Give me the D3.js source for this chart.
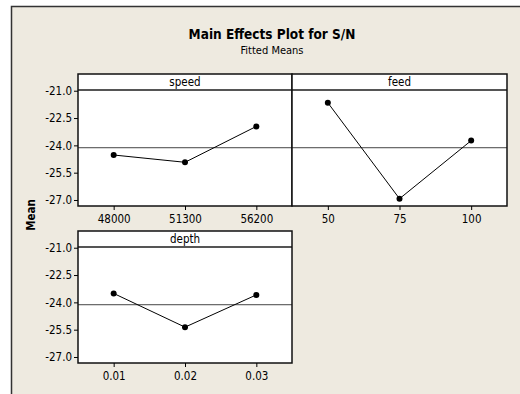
<!DOCTYPE html>
<html>
<head>
<meta charset="utf-8">
<script src="https://cdn.jsdelivr.net/npm/d3@7"></script>
<style>
  body { margin: 0; background: #fff; }
  text { font-family: "DejaVu Sans Condensed", "Liberation Sans", sans-serif; fill: #000; }
</style>
</head>
<body>
<svg id="chart"></svg>
<script>
// Main effects data (fitted means of S/N per factor level)
const factors = ["speed", "feed", "depth"];
const speedLevels = ["48000", "51300", "56200"];
const speedMeans = [-24.53, -24.93, -22.96];
const feedLevels = ["50", "75", "100"];
const feedMeans = [-21.66, -26.93, -23.74];
const depthLevels = ["0.01", "0.02", "0.03"];
const depthMeans = [-23.51, -25.36, -23.59];
const overallMean = -24.13;
const yTicks = [-21.0, -22.5, -24.0, -25.5, -27.0];

const width = 520, height = 394;
const svg = d3.select("#chart").attr("width", width).attr("height", height);

// beige frame
svg.append("rect").attr("x", 11).attr("y", 6).attr("width", width - 11).attr("height", height - 6)
  .attr("fill", "#eeeae0");
svg.append("path").attr("d", `M11.5,${height}V6.5H${width}`).attr("fill", "none").attr("stroke", "#333").attr("stroke-width", 1.5);

svg.append("text").attr("x", 272).attr("y", 39).attr("text-anchor", "middle")
  .style("font-weight", "bold").style("font-size", "13.5px").text("Main Effects Plot for S/N");
svg.append("text").attr("x", 272).attr("y", 54).attr("text-anchor", "middle")
  .style("font-size", "11px").text("Fitted Means");
svg.append("text").attr("transform", "translate(35,215) rotate(-90)").attr("text-anchor", "middle")
  .style("font-weight", "bold").style("font-size", "11.5px").text("Mean");

const panels = [
  { name: factors[0], levels: speedLevels, means: speedMeans, x0: 78, x1: 292, top: 74, yAxis: true },
  { name: factors[1], levels: feedLevels, means: feedMeans, x0: 292, x1: 507, top: 74, yAxis: false },
  { name: factors[2], levels: depthLevels, means: depthMeans, x0: 78, x1: 292, top: 231, yAxis: true }
];
const stripH = 16, plotH = 116;
const fmt = d => d3.format(".1f")(d).replace("\u2212", "-");

panels.forEach(p => {
  const g = svg.append("g");
  const y = d3.scaleLinear().domain([-27.33, -20.96]).range([p.top + stripH + plotH, p.top + stripH]);
  const x = d3.scaleLinear().domain([0.5, 3.5]).range([p.x0, p.x1]);

  g.append("rect").attr("x", p.x0).attr("y", p.top).attr("width", p.x1 - p.x0).attr("height", stripH + plotH)
    .attr("fill", "#fff");

  // reference line at overall mean
  g.append("line").attr("x1", p.x0).attr("x2", p.x1).attr("y1", y(overallMean)).attr("y2", y(overallMean))
    .attr("stroke", "#444").attr("stroke-width", 1);

  const pts = p.means.map((m, i) => [x(i + 1), y(m)]);
  g.append("path").attr("d", d3.line()(pts)).attr("fill", "none").attr("stroke", "#000").attr("stroke-width", 1);
  g.selectAll("circle").data(pts).join("circle")
    .attr("cx", d => d[0]).attr("cy", d => d[1]).attr("r", 3).attr("fill", "#000");

  // strip
  g.append("line").attr("x1", p.x0).attr("x2", p.x1).attr("y1", p.top + stripH).attr("y2", p.top + stripH)
    .attr("stroke", "#555").attr("stroke-width", 2);
  g.append("text").attr("x", (p.x0 + p.x1) / 2).attr("y", p.top + 12).attr("text-anchor", "middle")
    .style("font-size", "11.5px").text(p.name);

  g.append("rect").attr("x", p.x0).attr("y", p.top).attr("width", p.x1 - p.x0).attr("height", stripH + plotH)
    .attr("fill", "none").attr("stroke", "#111").attr("stroke-width", 1.5);

  // x axis
  const xa = g.append("g").attr("transform", `translate(0,${p.top + stripH + plotH})`)
    .call(d3.axisBottom(x).tickValues([1, 2, 3]).tickFormat((d, i) => p.levels[i]).tickSize(4).tickPadding(5));
  xa.select(".domain").remove();
  xa.selectAll("text").style("font-size", "11.5px").attr("font-family", null);

  if (p.yAxis) {
    const ya = g.append("g").attr("transform", `translate(${p.x0},0)`)
      .call(d3.axisLeft(y).tickValues(yTicks).tickFormat(fmt).tickSize(4).tickPadding(2));
    ya.select(".domain").remove();
    ya.selectAll("text").style("font-size", "11.5px").attr("font-family", null);
  }
});
</script>
</body>
</html>
